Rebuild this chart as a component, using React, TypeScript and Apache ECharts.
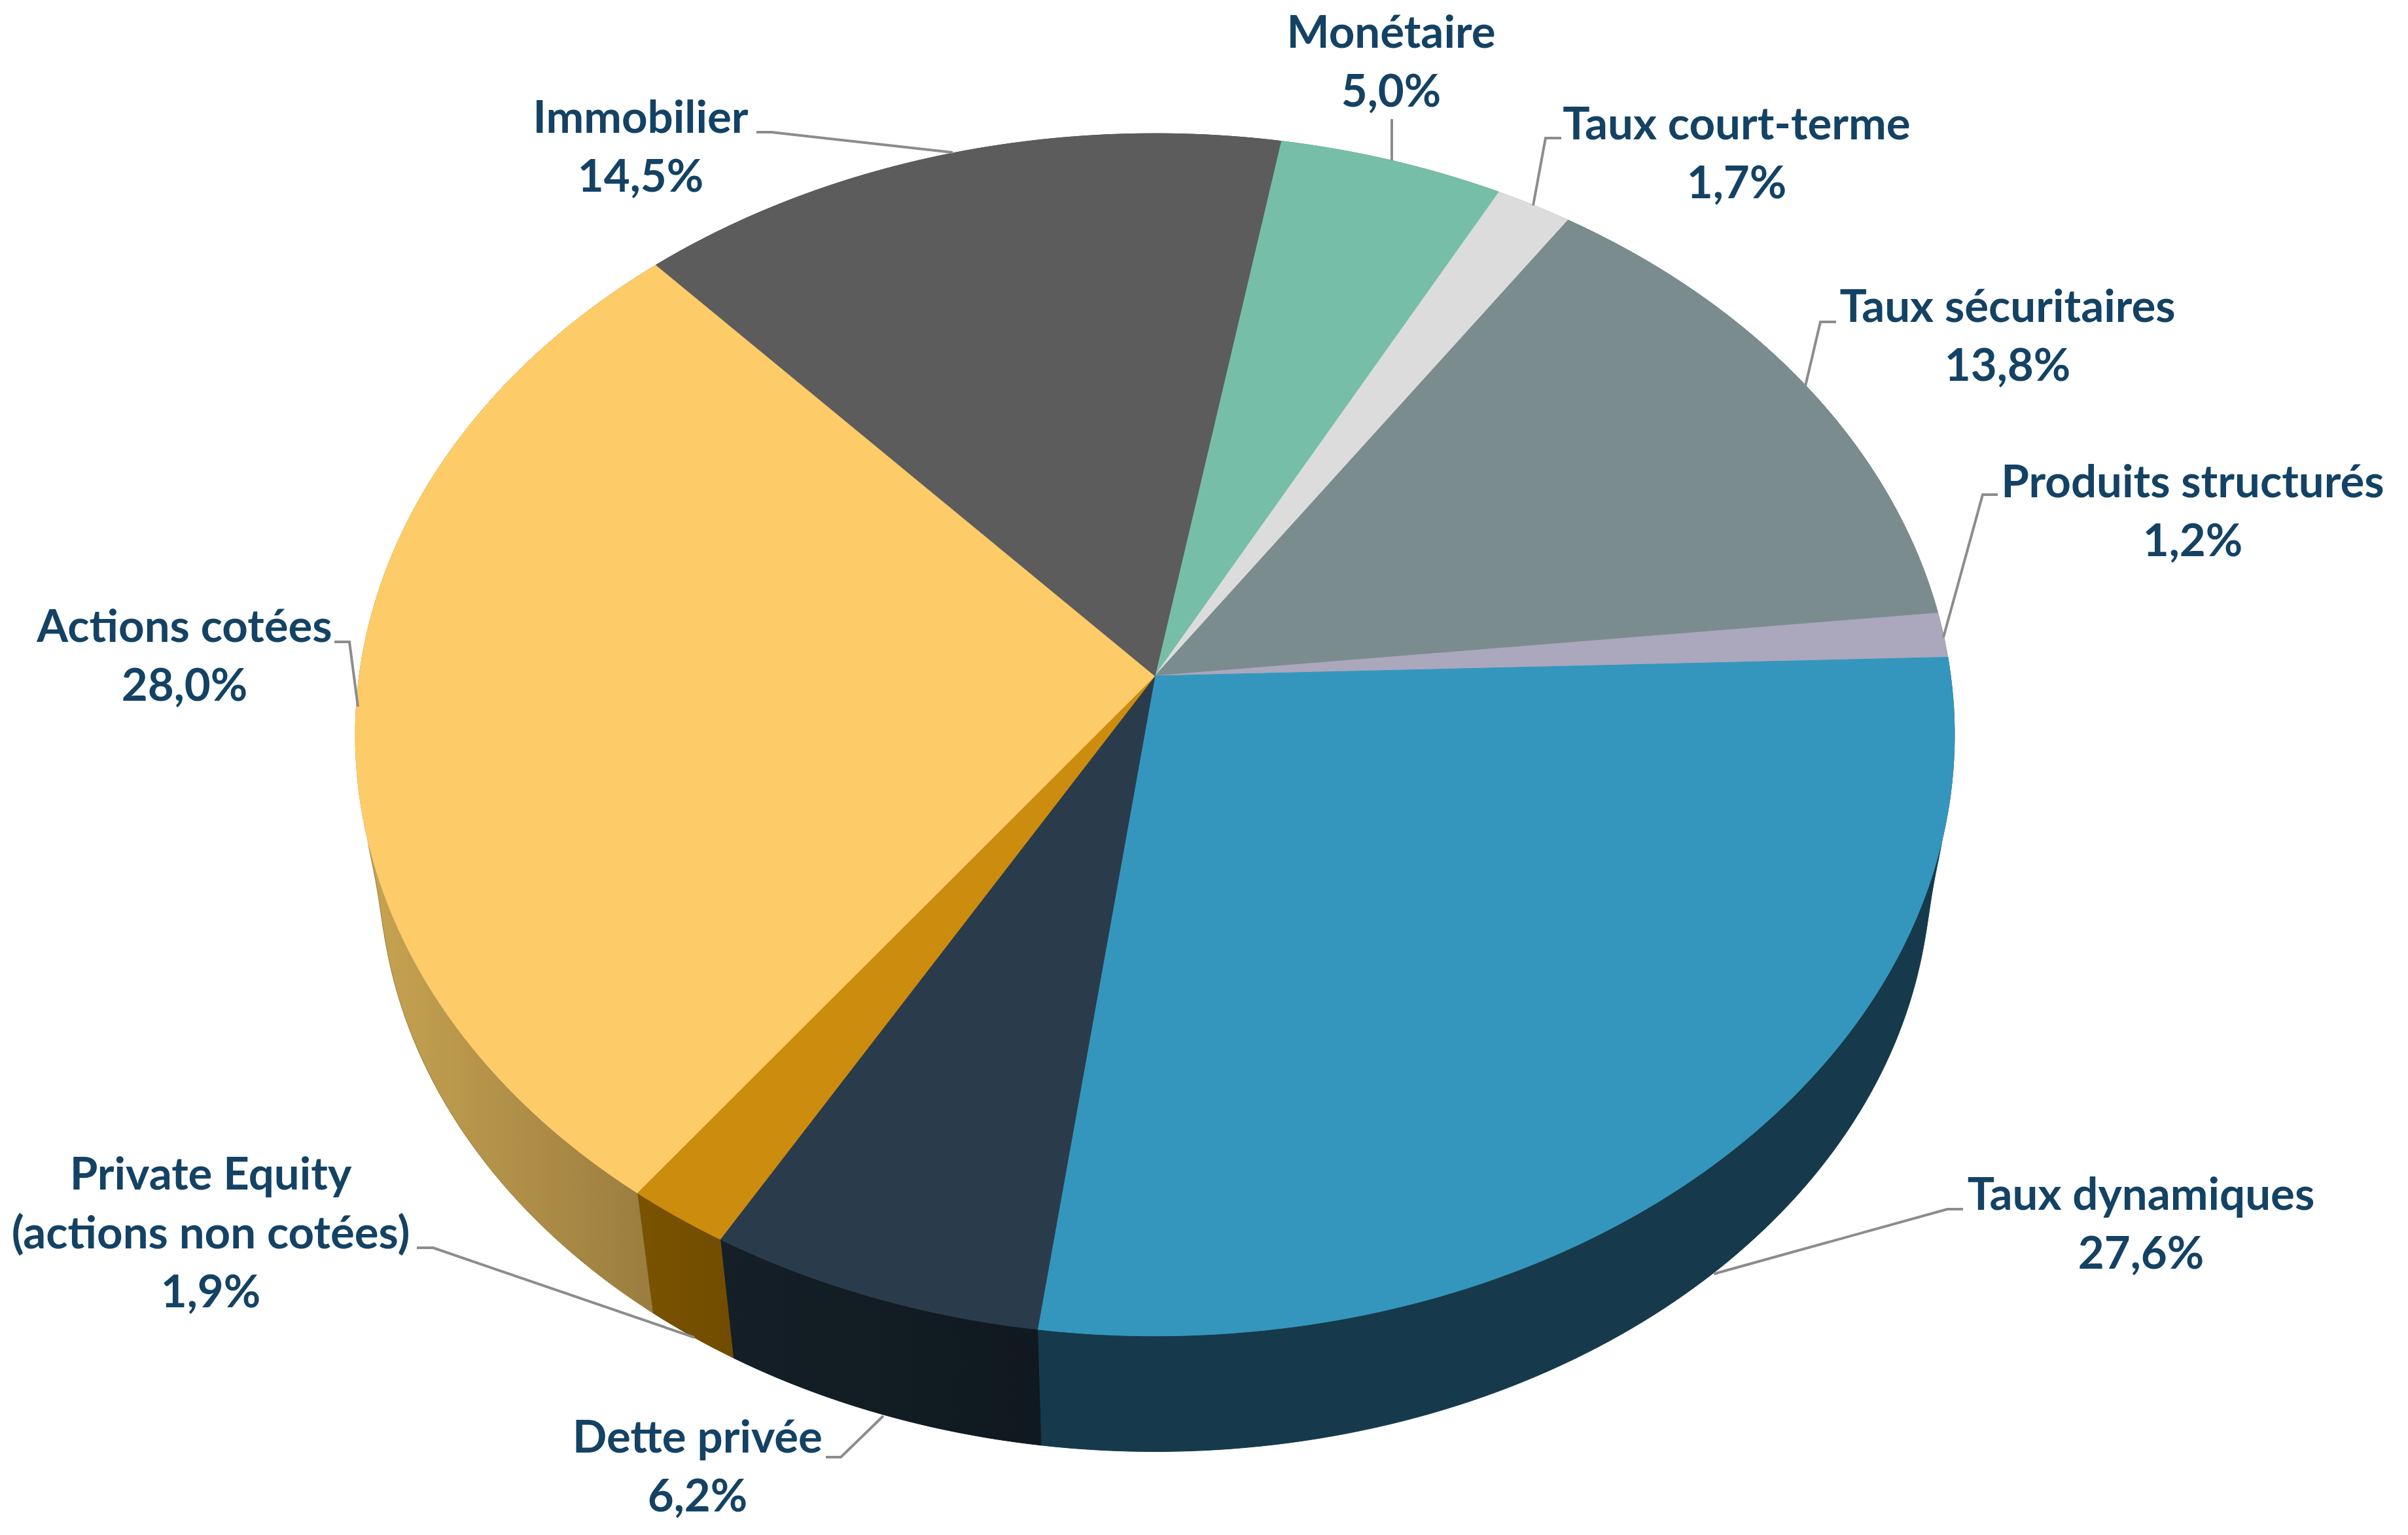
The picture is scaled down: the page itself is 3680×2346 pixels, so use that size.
import React, { useEffect, useRef } from "react";
import * as echarts from "echarts";

const categories = [
  "Monétaire",
  "Taux court-terme",
  "Taux sécuritaires",
  "Produits structurés",
  "Taux dynamiques",
  "Dette privée",
  "Private Equity\n(actions non cotées)",
  "Actions cotées",
  "Immobilier",
];
const shares = [5.0, 1.7, 13.8, 1.2, 27.6, 6.2, 1.9, 28.0, 14.5];

const topColors = ["#76BEA7", "#DCDCDC", "#7B8C8E", "#ABA7BD", "#3496BD", "#2A3C4C", "#CC8C0E", "#FECB69", "#5C5C5C"];
const wallColors: [string, string][] = [
  ["#5A9180", "#5A9180"],
  ["#A8A8A8", "#A8A8A8"],
  ["#5E6B6C", "#5E6B6C"],
  ["#827F90", "#827F90"],
  ["#163A4B", "#163A4B"],
  ["#141F27", "#0F191F"],
  ["#7A5300", "#714C00"],
  ["#C9A552", "#977A3E"],
  ["#464646", "#464646"],
];

// Label block centres and leader lines, in page pixels (layout only).
const labelCentres = [
  [2126, 91], [2654, 231], [3068, 510], [3351, 778], [3272, 1867],
  [1066, 2238], [322, 1881], [282, 999], [979, 221],
];
const leaders = [
  [[2127, 182], [2127, 245]],
  [[2386, 211], [2362, 211], [2343, 314]],
  [[2806, 492], [2782, 492], [2759, 590]],
  [[3053, 756], [3030, 756], [2970, 974]],
  [[3000, 1848], [2976, 1848], [2619, 1947]],
  [[1262, 2227], [1285, 2227], [1350, 2164]],
  [[637, 1907], [662, 1907], [1061, 2044]],
  [[511, 981], [534, 981], [547, 1080]],
  [[1156, 202], [1179, 202], [1456, 233]],
];

// Perspective disc: apex on the page, radii, perspective strength, start angle (deg clockwise from top).
const APEX_X = 1765;
const APEX_Y = 1033;
const RADIUS_X = 1216;
const RADIUS_Y = 910;
const PERSPECTIVE = 0.0979;
const START_DEG = 10;
const WALL_SCALE = 0.97;
const WALL_DROP = 207;

const total = shares.reduce((a, b) => a + b, 0);

function project(deg: number, lower: boolean): number[] {
  const t = (deg * Math.PI) / 180;
  const X = Math.sin(t);
  const Y = -Math.cos(t);
  const w = 1 - PERSPECTIVE * Y;
  const dx = (RADIUS_X * X) / w;
  const dy = (RADIUS_Y * Y) / w;
  if (!lower) return [APEX_X + dx, APEX_Y + dy];
  const sideScale = WALL_SCALE + 0.02 * Math.exp(-((Y / 0.1) ** 2));
  return [APEX_X + sideScale * dx, APEX_Y + WALL_SCALE * dy + WALL_DROP];
}

function sliceSpan(index: number): [number, number] {
  let before = 0;
  for (let i = 0; i < index; i++) before += shares[i];
  const a = START_DEG + (before / total) * 360;
  return [a, a + (shares[index] / total) * 360];
}

function arc(a: number, b: number, lower: boolean): number[][] {
  const n = Math.max(2, Math.ceil(b - a) + 1);
  const out: number[][] = [];
  for (let i = 0; i <= n; i++) out.push(project(a + ((b - a) * i) / n, lower));
  return out;
}

function renderWall(params: any, api: any) {
  const i = api.value(1);
  const [a, b] = sliceSpan(i);
  const points = [...arc(a, b, false), ...arc(a, b, true).reverse()];
  const [c0, c1] = wallColors[i];
  const fill = new echarts.graphic.LinearGradient(0, 0, 1, 0, [
    { offset: 0, color: c0 },
    { offset: 1, color: c1 },
  ]);
  return { type: "polygon", shape: { points }, style: { fill, stroke: c1, lineWidth: 1 }, silent: true };
}

function renderTop(params: any, api: any) {
  const i = api.value(1);
  const [a, b] = sliceSpan(i);
  const points = [[APEX_X, APEX_Y], ...arc(a, b, false)];
  return {
    type: "polygon",
    shape: { points },
    style: { fill: topColors[i], stroke: topColors[i], lineWidth: 1 },
    silent: true,
  };
}

const percent = (v: number) => v.toFixed(1).replace(".", ",") + "%";

export default function App() {
  const ref = useRef<HTMLDivElement>(null);
  useEffect(() => {
    document.body.style.margin = "0";
    const chart = echarts.init(ref.current!, undefined, { renderer: "svg" });
    const rows = shares.map((v, i) => ({ value: [v, i], name: categories[i] }));
    chart.setOption({
      animation: false,
      backgroundColor: "#FFFFFF",
      tooltip: { show: false },
      series: [
        { type: "custom", coordinateSystem: "none", renderItem: renderWall, data: rows, z: 1, silent: true },
        { type: "custom", coordinateSystem: "none", renderItem: renderTop, data: rows, z: 2, silent: true },
      ],
      graphic: [
        ...leaders.map((points) => ({
          type: "polyline",
          z: 5,
          silent: true,
          shape: { points },
          style: { stroke: "#8C8C8C", lineWidth: 4, fill: "none" },
        })),
        ...categories.map((name, i) => ({
          type: "text",
          z: 6,
          silent: true,
          x: labelCentres[i][0],
          y: labelCentres[i][1],
          style: {
            text: name + "\n" + percent(shares[i]),
            font: '700 69px Lato, "Noto Sans", sans-serif',
            lineHeight: 90,
            fill: "#134264",
            align: "center",
            verticalAlign: "middle",
          },
        })),
      ],
    });
    return () => chart.dispose();
  }, []);
  return <div ref={ref} style={{ width: 3680, height: 2346 }} />;
}
